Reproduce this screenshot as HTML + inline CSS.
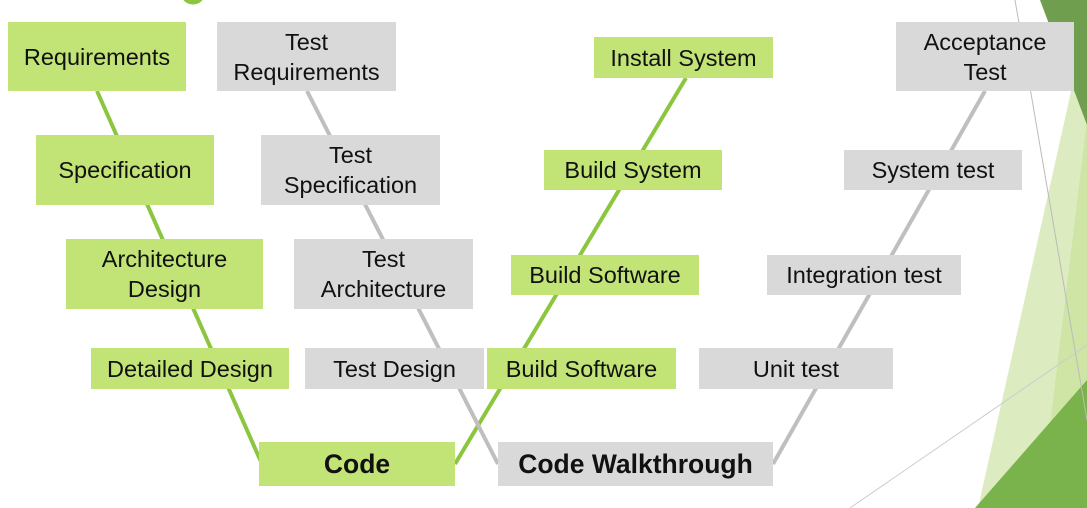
<!DOCTYPE html>
<html><head><style>
body{margin:0;width:1087px;height:508px;overflow:hidden;background:#fff;position:relative;font-family:"Liberation Sans","DejaVu Sans",sans-serif}
.b{position:absolute;display:flex;align-items:center;justify-content:center;text-align:center;font-size:23.5px;line-height:30px;color:#111;white-space:nowrap}
.g{background:#c2e376}.y{background:#d9d9d9}
.k{font-weight:bold;font-size:26.5px}
svg{position:absolute;left:0;top:0}
</style></head><body>
<svg width="1087" height="508">
<polygon points="1087,20 1087,508 978,508" fill="#dcecc0"/>
<polygon points="1087,120 1087,508 1040,508" fill="#c9e29a" opacity="0.7"/>
<polygon points="1040,0 1087,0 1087,125" fill="#6f9f4e"/>
<polygon points="1087,380 1087,508 975,508" fill="#7ab34c"/>
<line x1="1015" y1="0" x2="1087" y2="420" stroke="#bbb" stroke-width="1"/>
<line x1="850" y1="508" x2="1087" y2="345" stroke="#ccc" stroke-width="1"/>
<circle cx="193" cy="-8" r="10" fill="none" stroke="#8cc63f" stroke-width="5"/>
<line x1="97" y1="91" x2="262" y2="464" stroke="#8cc63f" stroke-width="4"/>
<line x1="455" y1="464" x2="686" y2="78" stroke="#8cc63f" stroke-width="4"/>
<line x1="307" y1="91" x2="498" y2="464" stroke="#bfbfbf" stroke-width="4"/>
<line x1="773" y1="464" x2="985" y2="91" stroke="#bfbfbf" stroke-width="4"/>
</svg>
<div class="b g" style="left:8px;top:22px;width:178px;height:69px">Requirements</div>
<div class="b y" style="left:217px;top:22px;width:179px;height:69px">Test<br>Requirements</div>
<div class="b g" style="left:594px;top:37px;width:179px;height:41px">Install System</div>
<div class="b y" style="left:896px;top:22px;width:178px;height:69px">Acceptance<br>Test</div>
<div class="b g" style="left:36px;top:135px;width:178px;height:70px">Specification</div>
<div class="b y" style="left:261px;top:135px;width:179px;height:70px">Test<br>Specification</div>
<div class="b g" style="left:544px;top:150px;width:178px;height:40px">Build System</div>
<div class="b y" style="left:844px;top:150px;width:178px;height:40px">System test</div>
<div class="b g" style="left:66px;top:239px;width:197px;height:70px">Architecture<br>Design</div>
<div class="b y" style="left:294px;top:239px;width:179px;height:70px">Test<br>Architecture</div>
<div class="b g" style="left:511px;top:255px;width:188px;height:40px">Build Software</div>
<div class="b y" style="left:767px;top:255px;width:194px;height:40px">Integration test</div>
<div class="b g" style="left:91px;top:348px;width:198px;height:41px">Detailed Design</div>
<div class="b y" style="left:305px;top:348px;width:179px;height:41px">Test Design</div>
<div class="b g" style="left:487px;top:348px;width:189px;height:41px">Build Software</div>
<div class="b y" style="left:699px;top:348px;width:194px;height:41px">Unit test</div>
<div class="b g k" style="left:259px;top:442px;width:196px;height:44px">Code</div>
<div class="b y k" style="left:498px;top:442px;width:275px;height:44px">Code Walkthrough</div>
</body></html>
